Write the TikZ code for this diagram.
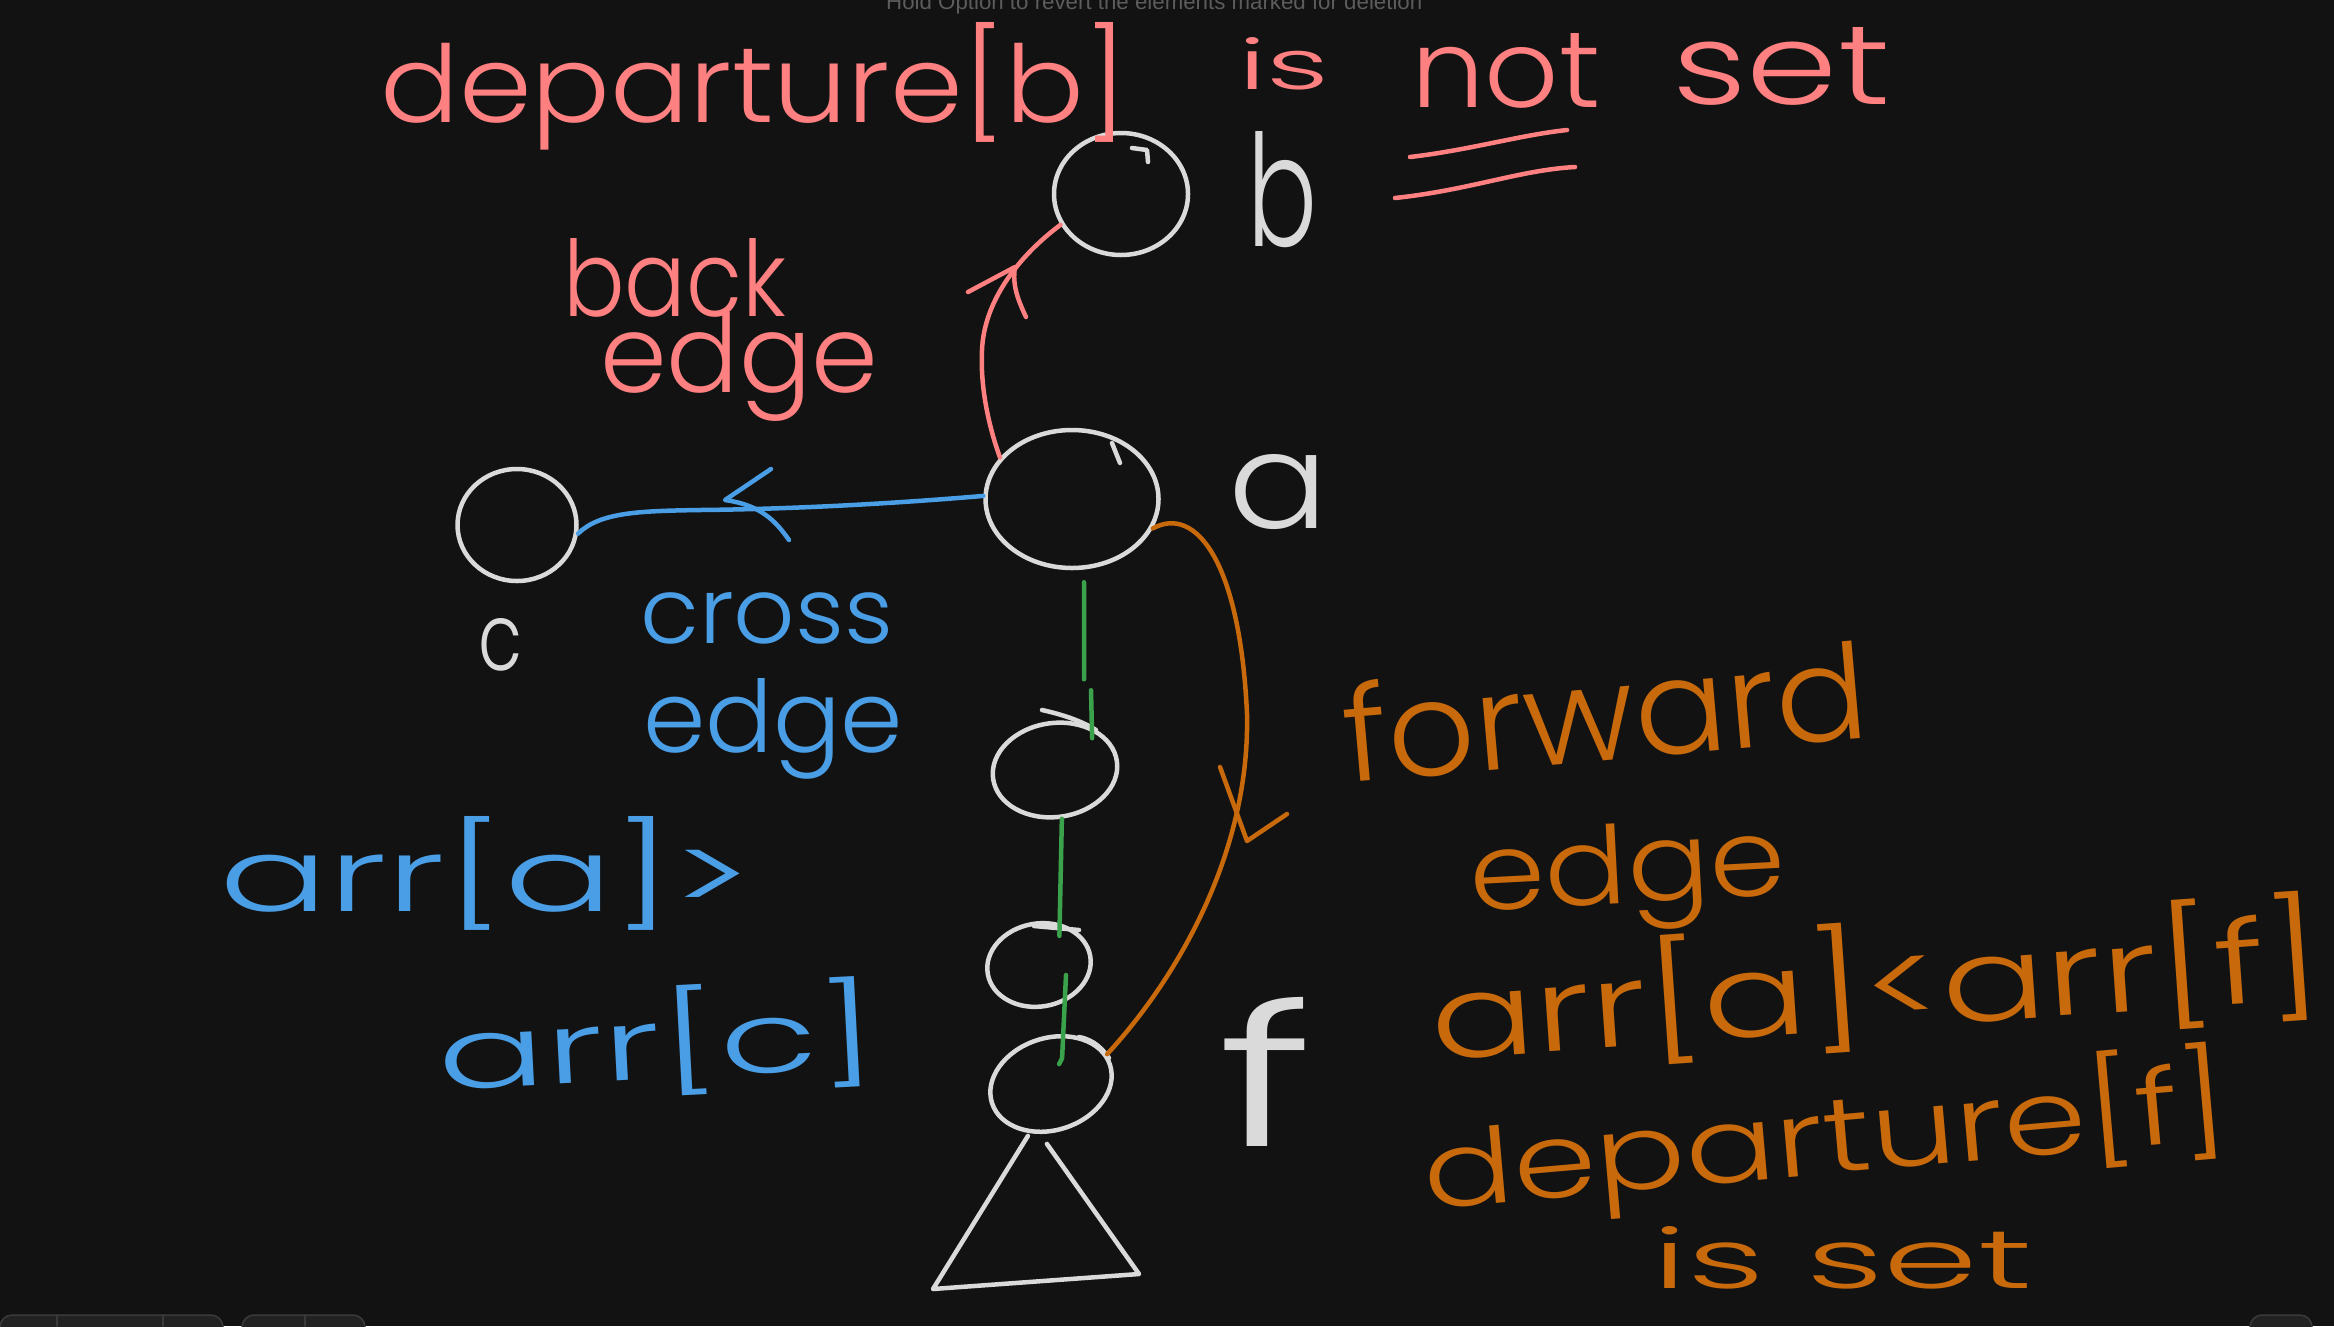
\documentclass[tikz,border=0pt]{standalone}
\usepackage{fontspec}
\usepackage{graphicx}
\setmainfont{Liberation Sans}
\newfontfamily\hand{Poppins Light}
\usetikzlibrary{shapes.geometric,calc}
\definecolor{bg}{HTML}{121212}
\definecolor{chalk}{HTML}{DADADA}
\definecolor{salmon}{HTML}{FF8080}
\definecolor{skyb}{HTML}{4A9EE6}
\definecolor{amber}{HTML}{C86A0C}
\definecolor{leaf}{HTML}{3BA24C}
\definecolor{uitext}{HTML}{5C5C5C}
\definecolor{uifill}{HTML}{222222}
\definecolor{uiline}{HTML}{3A3A3A}
\newcommand{\fitwh}[3]{\resizebox{#1pt}{#2pt}{\hand #3}}
\begin{document}
\begin{tikzpicture}[x=1pt,y=-1pt, line cap=round, line join=round,
  vtx/.style={draw=chalk, line width=4.5pt, ellipse, inner sep=0pt},
  pen/.style={line width=4.5pt},
  lbl/.style={inner sep=0pt, anchor=base west},
  uibox/.style={fill=uifill, draw=uiline, line width=1.5pt, rounded corners=12pt},
]
\fill[bg] (0,0) rectangle (2334,1326);
\useasboundingbox (0,0) rectangle (2334,1326);

% UI remnants
\node[inner sep=0pt, anchor=base west, text=uitext] (hint) at (886,9)
  {\resizebox{536pt}{!}{Hold Option to revert the elements marked for deletion}};
\draw[uibox] (0,1315) rectangle (223,1345);
\draw[uiline, line width=1.5pt] (57,1315) -- (57,1326) (163,1315) -- (163,1326);
\draw[uibox] (242,1315) rectangle (365,1345);
\draw[uiline, line width=1.5pt] (305,1315) -- (305,1326);
\draw[uibox] (2250,1315) rectangle (2312,1345);

% vertices
\node[vtx, minimum width=134pt, minimum height=122pt] (b) at (1121,194) {};
\node[vtx, minimum width=173pt, minimum height=138pt] (a) at (1072,499) {};
\node[vtx, minimum width=119pt, minimum height=112pt] (c) at (517,525) {};
\node[vtx, minimum width=125pt, minimum height=94pt, rotate=8] (d) at (1055,770) {};
\node[vtx, minimum width=104pt, minimum height=83pt, rotate=10] (e) at (1039,965) {};
\node[vtx, minimum width=124pt, minimum height=92pt, rotate=18] (f) at (1051,1084) {};
% pen-start ticks of the hand-drawn circles
\draw[chalk, pen] (1132,148) -- (1147,150) -- (1148,162);
\draw[chalk, pen] (1112,443) -- (1120,463);
\draw[chalk, pen] (1042,710) .. controls (1060,714) and (1080,720) .. (1096,730);
\draw[chalk, pen] (1034,926) -- (1079,930);
\draw[chalk, pen] (1079,1037) .. controls (1095,1040) and (1103,1050) .. (1109,1058);

% vertex labels
\node[lbl, text=chalk] (lb) at (1247,246) {\fitwh{70}{115}{b}};
\node[lbl, text=chalk] (la) at (1228,528) {\fitwh{100}{74}{a}};
\node[lbl, text=chalk] (lc) at (478,670) {\fitwh{44}{52}{c}};
\node[lbl, text=chalk] (lf) at (1218,1146) {\fitwh{95}{149}{f}};

% back edge (red)
\draw[salmon, pen] (a.150) .. controls (990,430) and (980,390) .. (982,350)
  .. controls (984,300) and (1020,255) .. (b.207);
\coordinate (rtip) at (1015,267);
\draw[salmon, pen] (968,292) -- (rtip) .. controls (1012,285) and (1018,300) .. (1026,317);

% cross edge (blue)
\draw[skyb, pen] (a.178) .. controls (900,503) and (800,509) .. (700,510)
  .. controls (640,511) and (600,512) .. (c.-8);
\coordinate (btip) at (725,500);
\draw[skyb, pen] (771,469) -- (btip) .. controls (760,505) and (775,520) .. (789,540);

% forward edge (orange)
\draw[amber, pen] (a.-20) .. controls (1195,505) and (1240,560) .. (1247,714)
  .. controls (1250,850) and (1180,975) .. (f.10);
\coordinate (otip) at (1247,841);
\draw[amber, pen] (1220,767) -- (otip) -- (1287,814);

% tree edges (green)
\draw[leaf, pen] ($(a.south)+(12,12)$) -- ++(0,97) ++(7,11) -- ($(d.north)+(44,17)$);
\draw[leaf, pen] (d.south) -- ($(e.north)+(28,14)$);
\draw[leaf, pen] ($(e.center)+(27,10)$) -- ($(f.north)+(26,20)$) -- ++(-3,6);

% subtree triangle
\coordinate (tl) at (933,1289);
\coordinate (tr) at (1139,1274);
\draw[chalk, pen] ($(f.south)+(-38,6)$) -- (tl) -- (tr) -- ($(f.south)+(-19,14)$);

% red texts
\node[lbl, text=salmon] (t1) at (380,122) {\fitwh{747}{100}{departure[b]}};
\node[lbl, text=salmon] (t2) at (1238,89) {\fitwh{91}{52}{is}};
\node[lbl, text=salmon] (t3) at (1411,107) {\fitwh{189}{74}{not}};
\node[lbl, text=salmon] (t4) at (1672,104) {\fitwh{218}{77}{set}};
\draw[salmon, pen] (1410,157) .. controls (1470,150) and (1520,135) .. (1567,130);
\draw[salmon, pen] (1395,198) .. controls (1470,190) and (1520,170) .. (1575,167);
\node[lbl, text=salmon] (t5) at (563,316) {\fitwh{223}{78}{back}};
\node[lbl, text=salmon] (t6) at (600,392) {\fitwh{278}{80}{edge}};

% blue texts
\node[lbl, text=skyb] (t7) at (640,643) {\fitwh{253}{51}{cross}};
\node[lbl, text=skyb] (t8) at (643,752) {\fitwh{260}{74}{edge}};
\node[lbl, text=skyb] (t9) at (219,911) {\fitwh{533}{95}{arr[a]>}};
\node[lbl, text=skyb, rotate=3] (t10) at (439,1090) {\fitwh{439}{92}{arr[c]}};

% orange texts
\node[lbl, text=amber, rotate=5] (t11) at (1347,783) {\fitwh{525}{100}{forward}};
\node[lbl, text=amber, rotate=3] (t12) at (1471,911) {\fitwh{316}{80}{edge}};
\node[lbl, text=amber, rotate=4] (t13) at (1433,1060) {\fitwh{893}{108}{arr[a]<arr[f]}};
\node[lbl, text=amber, rotate=5] (t14) at (1426,1209) {\fitwh{807}{98}{departure[f]}};
\node[lbl, text=amber] (t15) at (1652,1288) {\fitwh{380}{62}{is set}};
\end{tikzpicture}
\end{document}
